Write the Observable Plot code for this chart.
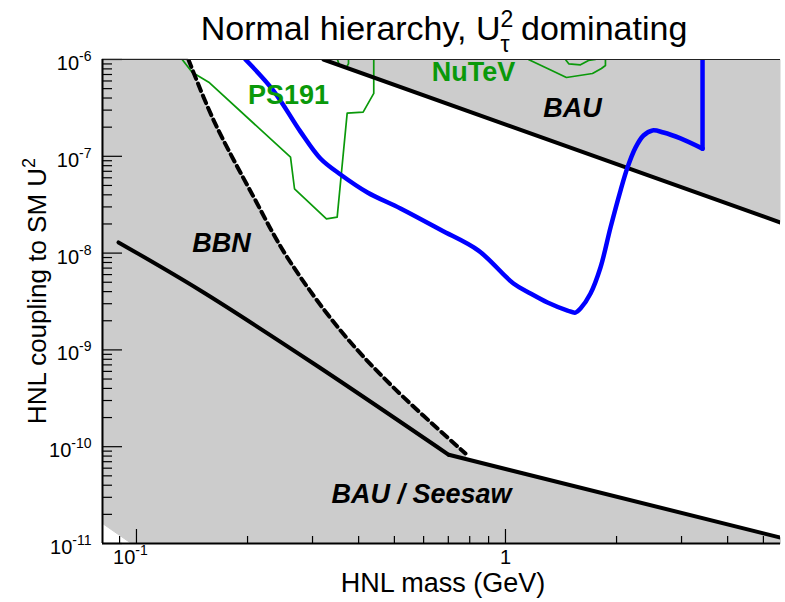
<!DOCTYPE html>
<html>
<head>
<meta charset="utf-8">
<script src="https://cdn.jsdelivr.net/npm/d3@7"></script>
<script src="https://cdn.jsdelivr.net/npm/@observablehq/plot@0.6"></script>
<style>
  body { margin: 0; background: #fff; }
  #chart { width: 785px; height: 602px; position: relative; }
  svg text { font-family: "Liberation Sans", Arial, Helvetica, sans-serif; }
</style>
</head>
<body>
<div id="chart"></div>
<script>
// ---- axis ranges and ticks ----
const xDomain = [0.0809, 5.563];
const yDomain = [1e-11, 1e-6];
const xMajor = [0.1, 1];
const xMajorLabels = ["10^-1", "1"];
const xMajorShift = [-6, 0];
const xMinor = [0.09, 0.2, 0.3, 0.4, 0.5, 0.6, 0.7, 0.8, 0.9, 2, 3, 4, 5];
const yMajor = [1e-11, 1e-10, 1e-9, 1e-8, 1e-7, 1e-6];
const yMajorLabels = ["10^-11", "10^-10", "10^-9", "10^-8", "10^-7", "10^-6"];
const yMinorMantissa = [2, 3, 4, 5, 6, 7, 8, 9];
const yMinorDecades = [1e-11, 1e-10, 1e-9, 1e-8, 1e-7];

// ---- SHiP sensitivity (blue) ----
const shipMass = [0.1974, 0.2350, 0.2782, 0.3151, 0.3571, 0.4227, 0.5193, 0.6666, 0.8450, 1.051, 1.169, 1.300, 1.473, 1.548, 1.597, 1.700, 1.809, 1.926, 2.050, 2.141, 2.251, 2.366, 2.502, 2.681, 2.981, 3.420];
const shipU2   = [1e-6, 4.78e-7, 1.80e-7, 9.49e-8, 6.49e-8, 4.23e-8, 2.89e-8, 1.74e-8, 1.06e-8, 4.85e-9, 3.83e-9, 3.09e-9, 2.55e-9, 2.43e-9, 2.68e-9, 3.83e-9, 7.10e-9, 1.84e-8, 4.43e-8, 7.66e-8, 1.23e-7, 1.64e-7, 1.85e-7, 1.76e-7, 1.53e-7, 1.20e-7];
const shipEdgeMass = [3.420, 3.420];
const shipEdgeU2   = [1.20e-7, 1e-6];

// ---- BBN (dashed) ----
const bbnMass = [0.1383, 0.1620, 0.2079, 0.2561, 0.3571, 0.4971, 0.7791];
const bbnU2   = [1e-6, 2.34e-7, 3.78e-8, 9.07e-9, 1.59e-9, 4.09e-10, 8.51e-11];

// ---- BAU / Seesaw lower line (curved part, then straight part) ----
const seesawMass = [0.0894, 0.1490, 0.3018, 0.7019];
const seesawU2   = [1.29e-8, 4.11e-9, 7.24e-10, 8.25e-11];
const seesaw2Mass = [0.7019, 5.563];
const seesaw2U2   = [8.25e-11, 1.15e-11];

// ---- BAU upper line ----
const bauMass = [0.3212, 5.563];
const bauU2   = [1e-6, 2.07e-8];

// ---- PS191 (green) ----
const ps191Mass = [0.1330, 0.1415, 0.1570, 0.2615, 0.2681, 0.3272, 0.3499, 0.3724, 0.4114, 0.4396, 0.4396];
const ps191U2   = [1e-6, 7.40e-7, 5.83e-7, 9.79e-8, 4.62e-8, 2.26e-8, 2.35e-8, 2.79e-7, 2.86e-7, 4.46e-7, 1e-6];
const ps191bMass = [0.3505, 0.3549, 0.3708, 0.3755, 0.3755];
const ps191bU2   = [1e-6, 8.67e-7, 8.27e-7, 9.09e-7, 1e-6];

// ---- NuTeV (green) ----
const nutevMass = [1.154, 1.300, 1.463, 1.721, 1.820, 1.866, 1.866];
const nutevU2   = [1e-6, 8.07e-7, 6.52e-7, 7.17e-7, 8.07e-7, 8.67e-7, 1e-6];
const nutevInMass = [1.454, 1.484, 1.597, 1.679, 1.753];
const nutevInU2   = [1e-6, 9.03e-7, 8.81e-7, 9.77e-7, 1e-6];

// ---- shading corners ----
const bbnJoin = [0.78, 7.5e-11];
const cornerMass = 0.0969;
const cornerU2 = 1.61e-11;

// ---- region labels ----
const labelText  = ["PS191", "NuTeV", "BAU", "BBN", "BAU / Seesaw"];
const labelMass  = [0.2582, 0.819, 1.519, 0.170, 0.592];
const labelU2    = [4.25e-7, 7.34e-7, 3.12e-7, 1.256e-8, 3.21e-11];
const labelColor = ["#0a990a", "#0a990a", "#000", "#000", "#000"];
const labelItalic = [false, false, true, true, true];

// ---- build tables ----
const pts = (xs, ys) => xs.map((x, i) => ({x, y: ys[i]}));
const ship = pts(shipMass, shipU2);
const shipEdge = pts(shipEdgeMass, shipEdgeU2);
const bbn = pts(bbnMass, bbnU2);
const seesaw = pts(seesawMass, seesawU2);
const seesaw2 = pts(seesaw2Mass, seesaw2U2);
const bau = pts(bauMass, bauU2);
const ps191 = pts(ps191Mass, ps191U2);
const ps191b = pts(ps191bMass, ps191bU2);
const nutev = pts(nutevMass, nutevU2);
const nutevIn = pts(nutevInMass, nutevInU2);
const yMinor = yMinorDecades.flatMap(d => yMinorMantissa.map(m => m * d));

const bbnEnd = bbn[bbn.length - 1];
const shadeLow = [
  {x: xDomain[0], y: bbnEnd.y},
  bbnEnd,
  {x: bbnJoin[0], y: bbnJoin[1]},
  seesaw2[seesaw2.length - 1],
  {x: xDomain[1], y: yDomain[0]},
  {x: cornerMass, y: yDomain[0]},
  {x: xDomain[0], y: cornerU2}
];
const shadeHigh = [bau[0], bau[1], {x: xDomain[1], y: yDomain[1]}];
const labels = labelText.map((t, i) => ({t, x: labelMass[i], y: labelU2[i], c: labelColor[i], it: labelItalic[i]}));
const xMajorT = xMajor.map((v, i) => ({v, t: xMajorLabels[i], dx: xMajorShift[i]}));
const yMajorT = yMajor.map((v, i) => ({v, t: yMajorLabels[i]}));

const W = 785, H = 602, mL = 102, mR = 5, mT = 59, mB = 59;
const plotW = W - mL - mR, plotH = H - mT - mB;
const green = "#0a990a";
const GRAY = "#cccccc";
const FONT = "Liberation Sans, Arial, Helvetica, sans-serif";

const svg = Plot.plot({
  width: W, height: H,
  marginLeft: mL, marginRight: mR, marginTop: mT, marginBottom: mB,
  style: {background: "white", fontFamily: FONT, overflow: "visible"},
  x: {type: "log", domain: xDomain, axis: null},
  y: {type: "log", domain: yDomain, axis: null},
  marks: [
    // shading: left of the BBN curve, below the seesaw line, above the BAU line
    Plot.areaX(bbn, {y: "y", x1: xDomain[0], x2: "x", fill: GRAY, stroke: GRAY, strokeWidth: 1, curve: "catmull-rom"}),
    Plot.line(shadeLow, {x: "x", y: "y", fill: GRAY, stroke: GRAY, strokeWidth: 1, curve: "linear"}),
    Plot.line(shadeHigh, {x: "x", y: "y", fill: GRAY, stroke: "none", curve: "linear"}),
    // ticks (inward)
    Plot.tickY(yMajor, {y: d => d, insetRight: plotW - 20, stroke: "#000", strokeWidth: 1.2}),
    Plot.tickY(yMinor, {y: d => d, insetRight: plotW - 10, stroke: "#000", strokeWidth: 1.2}),
    Plot.tickX(xMajor, {x: d => d, insetTop: plotH - 14, stroke: "#000", strokeWidth: 1.2}),
    Plot.tickX(xMinor, {x: d => d, insetTop: plotH - 7, stroke: "#000", strokeWidth: 1.2}),
    // green experimental contours
    Plot.line(ps191, {x: "x", y: "y", stroke: green, strokeWidth: 1.7, clip: true}),
    Plot.line(ps191b, {x: "x", y: "y", stroke: green, strokeWidth: 1.7, clip: true}),
    Plot.line(nutev, {x: "x", y: "y", stroke: green, strokeWidth: 1.7, clip: true}),
    Plot.line(nutevIn, {x: "x", y: "y", stroke: green, strokeWidth: 1.7, clip: true}),
    // black boundary lines
    Plot.line(bbn, {x: "x", y: "y", stroke: "#000", strokeWidth: 4, strokeDasharray: "8,5", curve: "catmull-rom", clip: true}),
    Plot.line(seesaw, {x: "x", y: "y", stroke: "#000", strokeWidth: 4, curve: "catmull-rom", clip: true}),
    Plot.line(seesaw2, {x: "x", y: "y", stroke: "#000", strokeWidth: 4, clip: true}),
    Plot.line(bau, {x: "x", y: "y", stroke: "#000", strokeWidth: 4, clip: true}),
    // SHiP
    Plot.line(ship, {x: "x", y: "y", stroke: "#0000ff", strokeWidth: 4.5, curve: "catmull-rom", clip: true}),
    Plot.line(shipEdge, {x: "x", y: "y", stroke: "#0000ff", strokeWidth: 4.5, clip: true}),
    // frame
    Plot.ruleY([yDomain[1]], {stroke: "#222", strokeWidth: 1}),
    Plot.ruleX([xDomain[0]], {stroke: "#000", strokeWidth: 2}),
    Plot.ruleY([yDomain[0]], {stroke: "#000", strokeWidth: 2}),
    // region labels
    Plot.text(labels.filter(d => !d.it), {x: "x", y: "y", text: "t", fill: "c", fontWeight: "bold", fontSize: 27}),
    Plot.text(labels.filter(d => d.it), {x: "x", y: "y", text: "t", fill: "c", fontWeight: "bold", fontStyle: "italic", fontSize: 27}),
    // tick labels
    Plot.text(yMajorT, {frameAnchor: "left", y: "v", text: "t", textAnchor: "end", dx: -11, dy: 4, fontSize: 20, fill: "#000"}),
    Plot.text(xMajorT.filter(d => d.dx === 0), {x: "v", frameAnchor: "bottom", text: "t", dy: 20, fontSize: 20, fill: "#000"}),
    Plot.text(xMajorT.filter(d => d.dx !== 0), {x: "v", frameAnchor: "bottom", text: "t", dx: xMajorShift[0], dy: 20, fontSize: 20, fill: "#000"})
  ]
});

// raise superscripts in tick labels
d3.select(svg).selectAll("text").each(function() {
  const m = /^(.*)\^(.+)$/.exec(this.textContent);
  if (!m) return;
  const s = d3.select(this);
  s.text(null);
  s.append("tspan").text(m[1]);
  s.append("tspan").attr("dy", -9).attr("font-size", 14).text(m[2]);
});

const root = d3.select(svg);
// title
const title = root.append("text")
  .attr("x", 444).attr("y", 40).attr("text-anchor", "middle")
  .style("font-size", "34px").style("font-family", FONT).attr("fill", "#000");
title.append("tspan").text("Normal hierarchy, U");
title.append("tspan").attr("dy", -13).style("font-size", "23px").text("2");
title.append("tspan").attr("dx", -12.8).attr("dy", 25).style("font-size", "23px").text("τ");
title.append("tspan").attr("dx", 2).attr("dy", -12).text(" dominating");

// x axis title
root.append("text")
  .attr("x", 443).attr("y", 592).attr("text-anchor", "middle")
  .style("font-size", "27px").style("font-family", FONT).attr("fill", "#000")
  .text("HNL mass (GeV)");

// y axis title
const yt = root.append("text")
  .attr("transform", "translate(46,291) rotate(-90)").attr("text-anchor", "middle")
  .style("font-size", "26px").style("font-family", FONT).attr("fill", "#000");
yt.append("tspan").text("HNL coupling to SM U");
yt.append("tspan").attr("dy", -11).style("font-size", "18px").text("2");

document.getElementById("chart").appendChild(svg);
</script>
</body>
</html>
